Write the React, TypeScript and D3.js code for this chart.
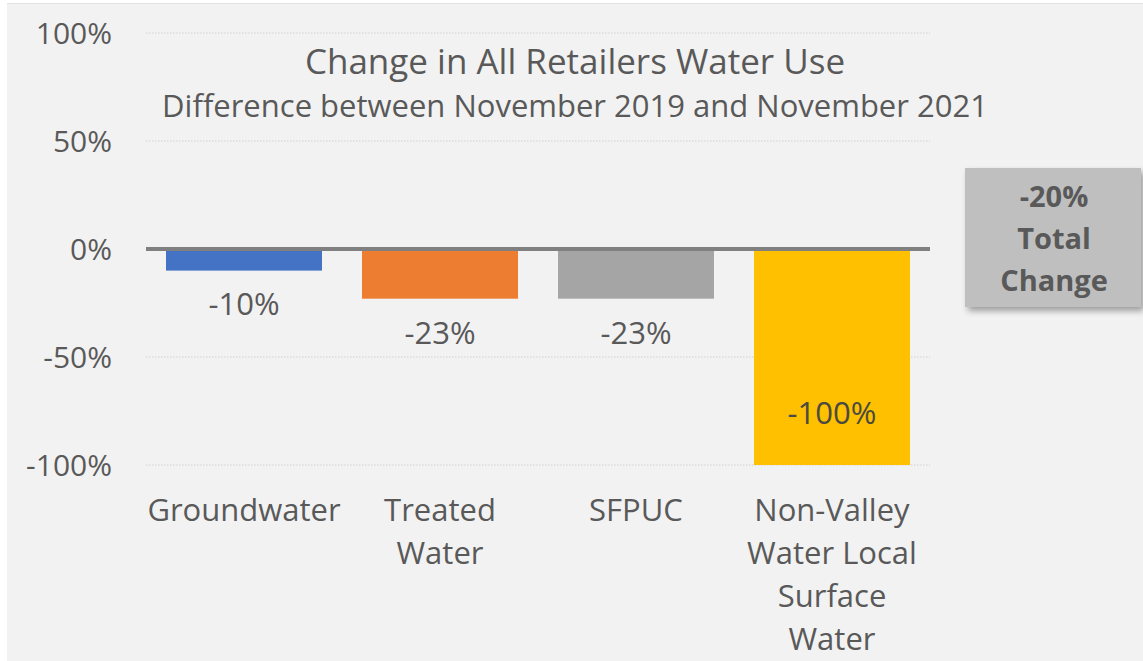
import React from "react";
import * as d3 from "d3";

const categories = ["Groundwater", "Treated Water", "SFPUC", "Non-Valley Water Local Surface Water"];
const categoryLines = [["Groundwater"], ["Treated", "Water"], ["SFPUC"], ["Non-Valley", "Water Local", "Surface", "Water"]];
const values = [-10, -23, -23, -100];
const colors = ["#4472c4", "#ed7d31", "#a5a5a5", "#ffc000"];
const labelInside = [false, false, false, true];
const yTicks = [100, 50, 0, -50, -100];
const titleText = "Change in All Retailers Water Use";
const subtitleText = "Difference between November 2019 and November 2021";
const totalLines = ["-20%", "Total", "Change"];

const W = 1143;
const H = 661;
const FONT = "'Open Sans', Lato, sans-serif";
const TXT = "#595959";

export default function App() {
  const x = d3
    .scaleBand<string>()
    .domain(categories)
    .range([146, 930])
    .paddingInner(40 / 196)
    .paddingOuter(20 / 196);
  const y = d3.scaleLinear().domain([-100, 100]).range([465, 33]);

  return (
    <div style={{ position: "fixed", left: 0, top: 0 }}>
      <svg width={W} height={H} style={{ display: "block" }}>
        <defs>
          <filter id="sh" x="-20%" y="-20%" width="150%" height="150%">
            <feDropShadow dx="3" dy="4" stdDeviation="3" floodColor="#000" floodOpacity="0.35" />
          </filter>
        </defs>
        <rect x={0} y={0} width={W} height={H} fill="#ffffff" />
        <rect x={7} y={3} width={W - 7} height={H - 3} fill="#f2f2f2" />
        <line x1={7} x2={W} y1={3.5} y2={3.5} stroke="#e2e2e2" strokeWidth={1} />

        {yTicks
          .filter((t) => t !== 0)
          .map((t) => (
            <line
              key={"g" + t}
              x1={146}
              x2={930}
              y1={y(t)}
              y2={y(t)}
              stroke="#d0d0d0"
              strokeWidth={1}
              strokeDasharray="1.5 1.5"
            />
          ))}

        {yTicks.map((t) => (
          <text
            key={"t" + t}
            x={112}
            y={y(t)}
            dy="0.35em"
            textAnchor="end"
            fontFamily={FONT}
            fontSize={30}
            fill={TXT}
          >
            {t + "%"}
          </text>
        ))}

        <text x={575} y={62} dy="0.35em" textAnchor="middle" fontFamily={FONT} fontSize={35} fill={TXT}>
          {titleText}
        </text>
        <text x={575} y={106} dy="0.35em" textAnchor="middle" fontFamily={FONT} fontSize={31} fill={TXT}>
          {subtitleText}
        </text>

        {categories.map((c, i) => {
          const v = values[i];
          const bx = x(c)!;
          const bw = x.bandwidth();
          const y0 = y(0);
          const y1 = y(v);
          const cx = bx + bw / 2;
          const ly = labelInside[i] ? y1 - 52 : y1 + 34;
          return (
            <g key={c}>
              <rect x={bx} y={Math.min(y0, y1)} width={bw} height={Math.abs(y1 - y0)} fill={colors[i]} />
              <text x={cx} y={ly} dy="0.35em" textAnchor="middle" fontFamily={FONT} fontSize={31} fill={labelInside[i] ? "#4a4a40" : TXT}>
                {v + "%"}
              </text>
              {categoryLines[i].map((ln, j) => (
                <text
                  key={j}
                  x={cx}
                  y={510 + j * 43}
                  dy="0.35em"
                  textAnchor="middle"
                  fontFamily={FONT}
                  fontSize={31}
                  fill={TXT}
                >
                  {ln}
                </text>
              ))}
            </g>
          );
        })}

        <line x1={146} x2={930} y1={y(0)} y2={y(0)} stroke="#808080" strokeWidth={4} />

        <g filter="url(#sh)">
          <rect x={965} y={168} width={176} height={139} fill="#bfbfbf" />
        </g>
        {totalLines.map((t, i) => (
          <text
            key={t}
            x={1054}
            y={197 + i * 42}
            dy="0.35em"
            textAnchor="middle"
            fontFamily={FONT}
            fontSize={29}
            fontWeight="bold"
            fill={TXT}
          >
            {t}
          </text>
        ))}
      </svg>
    </div>
  );
}
